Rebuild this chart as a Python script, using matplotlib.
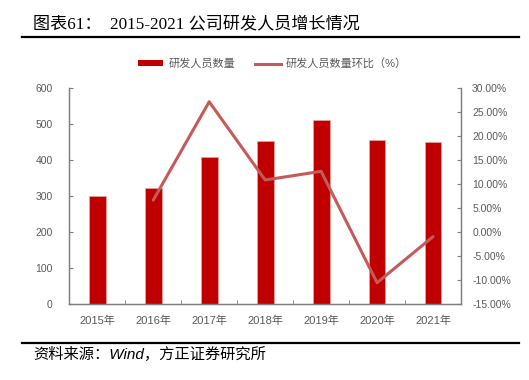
import matplotlib
matplotlib.use("Agg")
import matplotlib.pyplot as plt
from matplotlib.patches import Patch
from matplotlib.lines import Line2D

plt.rcParams['font.family'] = ['Liberation Sans', 'Noto Sans CJK SC', 'DejaVu Sans']

years = ["2015年", "2016年", "2017年", "2018年", "2019年", "2020年", "2021年"]
staff = [301, 322, 410, 454, 511, 457, 452]
# 环比 (%), 2015 has no value
growth_years = ["2016年", "2017年", "2018年", "2019年", "2020年", "2021年"]
growth = [6.7, 27.2, 10.9, 12.7, -10.5, -0.9]

left_ticks = [0, 100, 200, 300, 400, 500, 600]
right_ticks = [-15, -10, -5, 0, 5, 10, 15, 20, 25, 30]

bar_color = '#C00000'
line_color = '#C55A5A'
grey = '#595959'
spine_c = '#7F7F7F'

fig = plt.figure(figsize=(5.29, 3.80), dpi=100)
ax = fig.add_axes([0.131, 0.1992, 0.7405, 0.5684])
ax2 = ax.twinx()

x = list(range(len(years)))
ax.bar(x, staff, width=0.3, color=bar_color, edgecolor='#E9A6A6', linewidth=0.5, zorder=2)
gx = [years.index(y) for y in growth_years]
ax2.plot(gx, growth, color=line_color, linewidth=2.2, solid_capstyle='round', zorder=3)

ax.set_xlim(-0.5, len(years) - 0.5)
ax.set_ylim(0, 600)
ax2.set_ylim(-15, 30)
ax.set_yticks(left_ticks)
ax.set_yticklabels([str(v) for v in left_ticks], fontsize=7.5, color=grey)
ax2.set_yticks(right_ticks)
ax2.set_yticklabels([f"{v:.2f}%" for v in right_ticks], fontsize=7.5, color=grey)
ax.set_xticks(x)
ax.set_xticklabels(years, fontsize=8, color=grey)
ax.set_xticks([i + 0.5 for i in x[:-1]], minor=True)

for a in (ax, ax2):
    a.spines['top'].set_visible(False)
    for s in ('left', 'right', 'bottom'):
        a.spines[s].set_color(spine_c)
        a.spines[s].set_linewidth(0.9)
ax.tick_params(axis='y', direction='in', length=3, color=spine_c, pad=12)
ax2.tick_params(axis='y', direction='in', length=3, color=spine_c, pad=8)
ax.tick_params(axis='x', which='major', length=0, pad=8)
ax.tick_params(axis='x', which='minor', direction='in', length=3, color=spine_c)

handles = [Patch(facecolor=bar_color, edgecolor='none'),
           Line2D([0], [0], color=line_color, linewidth=2.2)]
labels = ["研发人员数量", "研发人员数量环比（%）"]
fig.legend(handles, labels, loc='center', bbox_to_anchor=(0.515, 0.832), ncol=2,
           frameon=False, fontsize=8, labelcolor=grey, handlelength=2.3,
           handleheight=0.5, handletextpad=0.45, columnspacing=1.8)

fig.text(0.062, 0.937, "图表61：  2015-2021 公司研发人员增长情况", fontsize=12.3,
         family=['Liberation Serif', 'Noto Sans CJK SC'], va='center', ha='left')
fig.add_artist(Line2D([0.042, 0.981], [0.903, 0.903], color='black', linewidth=1.6))
fig.add_artist(Line2D([0.042, 0.981], [0.098, 0.098], color='black', linewidth=1.6))
fig.text(0.062, 0.068, "资料来源：Wind，方正证券研究所", fontsize=11, style='italic',
         va='center', ha='left')

fig.savefig("out.png", dpi=100)
